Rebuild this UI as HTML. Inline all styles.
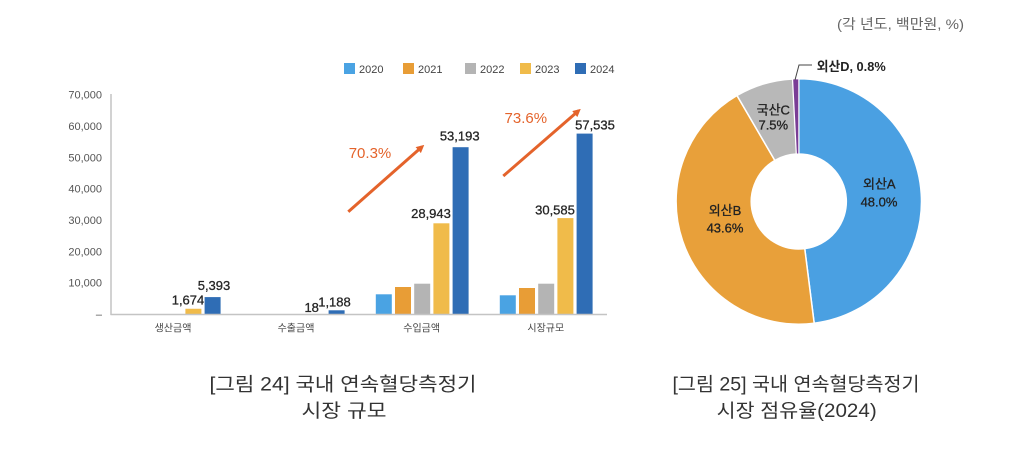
<!DOCTYPE html>
<html><head><meta charset="utf-8"><style>
html,body{margin:0;padding:0;background:#fff;}
svg{display:block;}
text{font-family:"Liberation Sans","Noto Sans CJK KR",sans-serif;}
</style></head><body>
<svg width="1024" height="450" viewBox="0 0 1024 450" xmlns="http://www.w3.org/2000/svg">
<defs>
<marker id="ah" markerWidth="8" markerHeight="8" refX="5" refY="4" orient="auto" markerUnits="userSpaceOnUse">
<path d="M0,0 L8,4 L0,8 Z" fill="#e4632b"/>
</marker>
</defs>
<!-- unit -->
<text x="964" y="29" font-size="14" fill="#666" text-anchor="end" textLength="127" lengthAdjust="spacingAndGlyphs">(각 년도, 백만원, %)</text>

<!-- legend -->
<g font-size="11" fill="#444">
<rect x="344" y="63" width="11" height="11" fill="#4aa3e3"/><text x="359" y="73">2020</text>
<rect x="403" y="63" width="11" height="11" fill="#e89d36"/><text x="418" y="73">2021</text>
<rect x="465" y="63" width="11" height="11" fill="#b4b4b4"/><text x="480" y="73">2022</text>
<rect x="520" y="63" width="11" height="11" fill="#f0bb4a"/><text x="535" y="73">2023</text>
<rect x="575" y="63" width="11" height="11" fill="#2f6db5"/><text x="590" y="73">2024</text>
</g>

<!-- y labels -->
<g font-size="11" fill="#555" text-anchor="end">
<text x="102" y="98.5">70,000</text>
<text x="102" y="130">60,000</text>
<text x="102" y="161.5">50,000</text>
<text x="102" y="192.5">40,000</text>
<text x="102" y="224">30,000</text>
<text x="102" y="255.5">20,000</text>
<text x="102" y="286.5">10,000</text>
<text x="102" y="318">–</text>
</g>

<!-- bars -->
<rect x="185.4" y="308.75" width="16" height="5.25" fill="#f0bb4a"/>
<rect x="204.6" y="297.1" width="16" height="16.9" fill="#2f6db5"/>
<rect x="328.6" y="310.3" width="16" height="3.7" fill="#2f6db5"/>
<rect x="375.8" y="294.3" width="16" height="19.7" fill="#4aa3e3"/>
<rect x="395" y="287" width="16" height="27" fill="#e89d36"/>
<rect x="414.2" y="283.7" width="16" height="30.3" fill="#b4b4b4"/>
<rect x="433.4" y="223.3" width="16" height="90.7" fill="#f0bb4a"/>
<rect x="452.6" y="147.2" width="16" height="166.8" fill="#2f6db5"/>
<rect x="499.8" y="295.3" width="16" height="18.7" fill="#4aa3e3"/>
<rect x="519" y="288" width="16" height="26" fill="#e89d36"/>
<rect x="538.2" y="283.7" width="16" height="30.3" fill="#b4b4b4"/>
<rect x="557.4" y="218.1" width="16" height="95.9" fill="#f0bb4a"/>
<rect x="576.6" y="133.6" width="16" height="180.4" fill="#2f6db5"/>

<!-- axes -->
<line x1="111" y1="94" x2="111" y2="315" stroke="#c4c4c4" stroke-width="1.5"/>
<line x1="110.5" y1="314.5" x2="607" y2="314.5" stroke="#c4c4c4" stroke-width="1.5"/>

<!-- category labels -->
<g font-size="10" fill="#444" text-anchor="middle">
<text x="173" y="331.5">생산금액</text>
<text x="296" y="331.5">수출금액</text>
<text x="421.7" y="331.5">수입금액</text>
<text x="545.8" y="331.5">시장규모</text>
</g>

<!-- value labels -->
<g font-size="13" fill="#262626" stroke="#262626" stroke-width="0.3" text-anchor="middle">
<text x="188" y="304.5">1,674</text>
<text x="214" y="290">5,393</text>
<text x="311.7" y="312">18</text>
<text x="334.5" y="306.5">1,188</text>
<text x="431" y="218">28,943</text>
<text x="459.7" y="140.7">53,193</text>
<text x="555" y="214.5">30,585</text>
<text x="595" y="129.5">57,535</text>
</g>

<!-- arrows -->
<line x1="348.3" y1="211.7" x2="422" y2="146.8" stroke="#e4632b" stroke-width="3" marker-end="url(#ah)"/>
<line x1="503.3" y1="176" x2="578.5" y2="110.8" stroke="#e4632b" stroke-width="3" marker-end="url(#ah)"/>
<g font-size="15" fill="#e4632b" text-anchor="middle">
<text x="370" y="158">70.3%</text>
<text x="525.8" y="123">73.6%</text>
</g>

<!-- donut -->
<g stroke="#fff" stroke-width="1.5">
<path d="M798.8,78.8 A122.7,122.7 0 0 1 814.18,323.23 L804.75,248.63 A47.5,47.5 0 0 0 798.8,154 Z" fill="#4aa0e2"/>
<path d="M814.18,323.23 A122.7,122.7 0 0 1 737.0,95.5 L774.88,160.46 A47.5,47.5 0 0 0 804.75,248.63 Z" fill="#e8a03a"/>
<path d="M737.0,95.5 A122.7,122.7 0 0 1 792.64,78.95 L796.41,154.06 A47.5,47.5 0 0 0 774.88,160.46 Z" fill="#b8b8b8"/>
<path d="M792.64,78.95 A122.7,122.7 0 0 1 798.8,78.8 L798.8,154 A47.5,47.5 0 0 0 796.41,154.06 Z" fill="#7a3d96" stroke-width="1"/>
</g>
<polyline points="795,80 799,65 812,65" fill="none" stroke="#444" stroke-width="1"/>

<g font-size="13" fill="#222" stroke="#222" stroke-width="0.3" text-anchor="middle">
<text x="879.3" y="188.5">외산A</text>
<text x="879" y="206.3">48.0%</text>
<text x="725" y="215.2">외산B</text>
<text x="725" y="232.3">43.6%</text>
<text x="773.3" y="114.5">국산C</text>
<text x="773.3" y="129.6">7.5%</text>
</g>
<text x="816.7" y="71.2" font-size="13" fill="#222" font-weight="bold" textLength="69" lengthAdjust="spacingAndGlyphs">외산D, 0.8%</text>

<!-- captions -->
<g font-size="19" fill="#333" text-anchor="middle">
<text x="343" y="390.5" textLength="267" lengthAdjust="spacingAndGlyphs">[그림 24] 국내 연속혈당측정기</text>
<text x="344" y="417" textLength="85" lengthAdjust="spacingAndGlyphs">시장 규모</text>
<text x="796" y="390.5" textLength="247" lengthAdjust="spacingAndGlyphs">[그림 25] 국내 연속혈당측정기</text>
<text x="796.7" y="417" textLength="160" lengthAdjust="spacingAndGlyphs">시장 점유율(2024)</text>
</g>
</svg>
</body></html>
